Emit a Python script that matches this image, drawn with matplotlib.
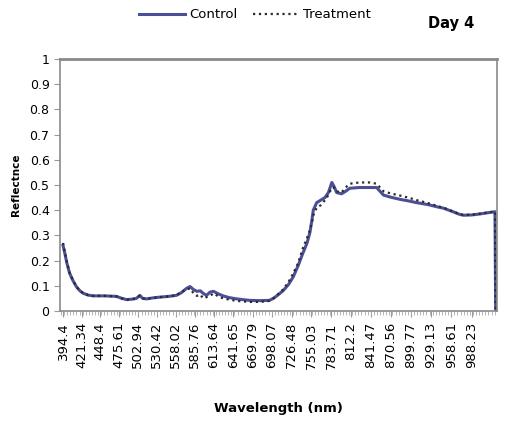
import matplotlib
matplotlib.use('Agg')
import matplotlib.pyplot as plt
from matplotlib.ticker import MultipleLocator

plt.rcParams['font.family'] = ['DejaVu Sans']

# wavelength (nm) sample points
wl = [394.4, 397, 400, 404, 409, 414, 419, 424, 431, 438, 455, 472, 480, 487,
      495, 501, 506, 510, 516, 525, 535, 548, 559, 566, 574, 579, 584, 589,
      594, 598, 603, 608, 613, 620, 627, 636, 647, 656, 666, 680, 694, 700,
      705, 714, 722, 729, 736, 743, 749, 753, 756, 758, 763, 769, 775, 780,
      785, 788, 792, 799, 805, 811, 825, 840, 850, 855, 860, 870, 884, 896,
      908, 925, 940, 947, 960, 970, 976, 988, 1000, 1012, 1022, 1023]

control = [0.26, 0.23, 0.19, 0.15, 0.12, 0.096, 0.08, 0.07, 0.063, 0.06, 0.06,
           0.058, 0.05, 0.045, 0.047, 0.05, 0.062, 0.05, 0.048, 0.052, 0.055,
           0.058, 0.062, 0.072, 0.09, 0.097, 0.085, 0.078, 0.08, 0.07, 0.062,
           0.075, 0.078, 0.068, 0.06, 0.053, 0.048, 0.045, 0.042, 0.041, 0.042,
           0.05, 0.06, 0.08, 0.105, 0.136, 0.18, 0.23, 0.27, 0.31, 0.36, 0.40,
           0.43, 0.44, 0.45, 0.47, 0.51, 0.495, 0.47, 0.465, 0.475, 0.487,
           0.49, 0.49, 0.49, 0.475, 0.46, 0.452, 0.443, 0.437, 0.43, 0.422,
           0.412, 0.408, 0.395, 0.384, 0.38, 0.381, 0.385, 0.39, 0.394, 0.0]

treatment = [0.27, 0.235, 0.195, 0.152, 0.12, 0.096, 0.08, 0.07, 0.063, 0.06, 0.06,
             0.058, 0.05, 0.045, 0.047, 0.05, 0.06, 0.05, 0.048, 0.052, 0.055,
             0.058, 0.062, 0.075, 0.085, 0.09, 0.07, 0.06, 0.065, 0.05, 0.055,
             0.06, 0.07, 0.058, 0.05, 0.045, 0.04, 0.038, 0.036, 0.036, 0.04,
             0.05, 0.062, 0.085, 0.115, 0.15, 0.19, 0.25, 0.29, 0.32, 0.35, 0.38,
             0.41, 0.42, 0.44, 0.46, 0.49, 0.49, 0.475, 0.47, 0.49, 0.505,
             0.51, 0.51, 0.505, 0.49, 0.475, 0.467, 0.458, 0.45, 0.44, 0.428,
             0.415, 0.41, 0.396, 0.385, 0.381, 0.382, 0.386, 0.391, 0.395, 0.0]

tick_wl = [394.4, 421.34, 448.4, 475.61, 502.94, 530.42, 558.02, 585.76, 613.64,
           641.65, 669.79, 698.07, 726.48, 755.03, 783.71, 812.2, 841.47, 870.56,
           899.77, 929.13, 958.61, 988.23]

fig = plt.figure(figsize=(5.1, 4.21), dpi=100)
ax = fig.add_axes([0.1176, 0.2613, 0.857, 0.5986])

ax.plot(wl, control, color='#4b4f96', lw=2.2, label='Control')
ax.plot(wl, treatment, color='#2a2a2a', lw=1.6, ls=':', label='Treatment')

ax.set_xlim(390, 1025)
ax.set_ylim(0, 1)
ax.set_xticks(tick_wl)
ax.set_xticklabels([str(t) for t in tick_wl], rotation=90, fontsize=9.5)
ax.xaxis.set_minor_locator(MultipleLocator(4.5))
ax.tick_params(axis='x', which='major', length=4, color='#999999', pad=4)
ax.tick_params(axis='x', which='minor', length=3, color='#aaaaaa')
ax.set_yticks([i / 10 for i in range(11)])
ax.set_yticklabels(['0'] + ['0.%d' % i for i in range(1, 10)] + ['1'], fontsize=9)
ax.tick_params(axis='y', length=4, color='#999999')

for s in ax.spines.values():
    s.set_color('#8a8a8a')
    s.set_linewidth(1.2)
ax.spines['top'].set_linewidth(2)

ax.set_ylabel('Reflectnce', fontsize=7.5, fontweight='bold', labelpad=6)
ax.set_xlabel('Wavelength (nm)', fontsize=9.5, fontweight='bold', labelpad=24)

fig.text(0.885, 0.945, 'Day 4', fontsize=10.5, fontweight='bold', ha='center', va='center')
fig.legend(loc='center', bbox_to_anchor=(0.5, 0.965), ncol=2, frameon=False,
           fontsize=9.5, handlelength=3.5, columnspacing=1.2, handletextpad=0.3)

fig.savefig('out.png', dpi=100)
